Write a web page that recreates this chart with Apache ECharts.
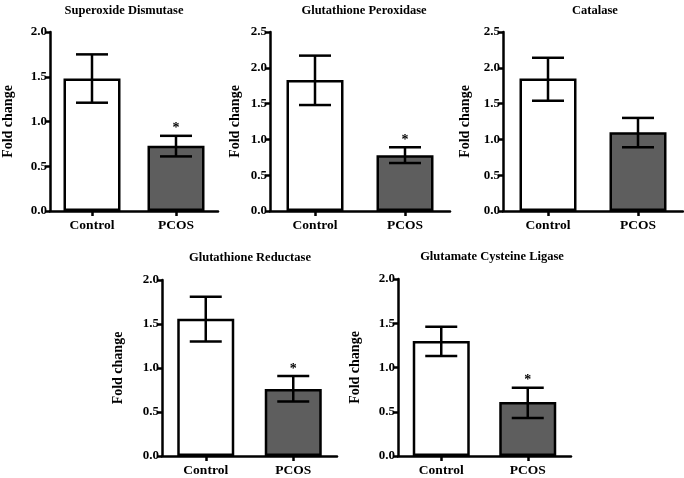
<!DOCTYPE html>
<html>
<head>
<meta charset="utf-8">
<script src="https://cdn.jsdelivr.net/npm/echarts@6/dist/echarts.min.js"></script>
<style>
  html, body { margin: 0; padding: 0; background: #fff; }
  #chart { width: 684px; height: 478px; }
</style>
</head>
<body>
<div id="chart"></div>
<script>
// data
const categories = ['Control', 'PCOS']
const titles = ['Superoxide Dismutase', 'Glutathione Peroxidase', 'Catalase',
  'Glutathione Reductase', 'Glutamate Cysteine Ligase']
const controlMean = [1.48, 1.83, 1.85, 1.56, 1.30]
const controlHigh = [1.75, 2.17, 2.14, 1.81, 1.46]
const controlLow  = [1.21, 1.48, 1.54, 1.30, 1.13]
const pcosMean = [0.73, 0.78, 1.10, 0.76, 0.61]
const pcosHigh = [0.84, 0.89, 1.30, 0.91, 0.77]
const pcosLow  = [0.61, 0.67, 0.89, 0.62, 0.43]
const pcosSignificant = [true, true, false, true, true]
const yMax = [2.0, 2.5, 2.5, 2.0, 2.0]
const yInterval = 0.5

// panel layout (pixels)
const grids = [
  { left: 42, top: 32, width: 176, height: 179 },
  { left: 270, top: 32, width: 180, height: 179 },
  { left: 503, top: 32, width: 180, height: 179 },
  { left: 162, top: 280, width: 175, height: 179 },
  { left: 398, top: 279, width: 173, height: 179 },
]
const nameGaps = [35, 28, 31, 37, 36]
const titlePos = [[124, 4], [364, 4], [595, 4], [250, 251], [492, 250]]

const FONT = '"Liberation Serif", "Times New Roman", serif'
const BAR_COLORS = ['#ffffff', '#5e5e5e']
const LW = 2.5

function errorBarItem(params, api) {
  const x = api.value(0)
  const lo = api.coord([x, api.value(1)])
  const hi = api.coord([x, api.value(2)])
  const cap = 16
  const style = { stroke: '#000', lineWidth: LW }
  const children = [
    { type: 'line', shape: { x1: hi[0], y1: hi[1], x2: lo[0], y2: lo[1] }, style },
    { type: 'line', shape: { x1: hi[0] - cap, y1: hi[1], x2: hi[0] + cap, y2: hi[1] }, style },
    { type: 'line', shape: { x1: lo[0] - cap, y1: lo[1], x2: lo[0] + cap, y2: lo[1] }, style },
  ]
  if (api.value(3)) {
    children.push({
      type: 'text',
      style: {
        text: '*', x: hi[0], y: hi[1] - 7, align: 'center', verticalAlign: 'middle',
        font: 'bold 14px ' + FONT, fill: '#000',
      },
    })
  }
  return { type: 'group', children }
}

const axisLine = { show: true, lineStyle: { color: '#000', width: LW } }
const axisTick = { show: true, length: 5, lineStyle: { color: '#000', width: LW } }

const option = {
  animation: false,
  backgroundColor: '#fff',
  grid: grids.map(g => Object.assign({ containLabel: false }, g)),
  xAxis: grids.map((g, i) => ({
    type: 'category', gridIndex: i, data: categories,
    axisLine, axisTick: Object.assign({ alignWithLabel: true }, axisTick),
    axisLabel: { color: '#000', fontFamily: FONT, fontWeight: 'bold', fontSize: 13.5, margin: 8 },
  })),
  yAxis: grids.map((g, i) => ({
    type: 'value', gridIndex: i, min: 0, max: yMax[i], interval: yInterval,
    name: 'Fold change', nameLocation: 'middle', nameGap: nameGaps[i],
    nameTextStyle: { color: '#000', fontFamily: FONT, fontWeight: 'bold', fontSize: 14 },
    axisLine, axisTick,
    splitLine: { show: false },
    axisLabel: {
      color: '#000', fontFamily: FONT, fontWeight: 'bold', fontSize: 13, margin: 3,
      formatter: v => v.toFixed(1),
    },
  })),
  graphic: titles.map((t, i) => ({
    type: 'text', x: titlePos[i][0], y: titlePos[i][1],
    style: {
      text: t, align: 'center', verticalAlign: 'top',
      font: 'bold 12.5px ' + FONT, fill: '#000',
    },
  })),
  series: [],
}

titles.forEach((t, i) => {
  option.series.push({
    type: 'bar', xAxisIndex: i, yAxisIndex: i, barWidth: 57,
    data: [controlMean[i], pcosMean[i]].map((v, k) => ({
      value: v,
      itemStyle: { color: BAR_COLORS[k], borderColor: '#000', borderWidth: LW },
    })),
    z: 2,
  })
  option.series.push({
    type: 'custom', xAxisIndex: i, yAxisIndex: i,
    renderItem: errorBarItem,
    data: [
      [0, controlLow[i], controlHigh[i], 0],
      [1, pcosLow[i], pcosHigh[i], pcosSignificant[i] ? 1 : 0],
    ],
    z: 3,
  })
})

const chart = echarts.init(document.getElementById('chart'), null, { renderer: 'canvas' })
chart.setOption(option)
</script>
</body>
</html>
